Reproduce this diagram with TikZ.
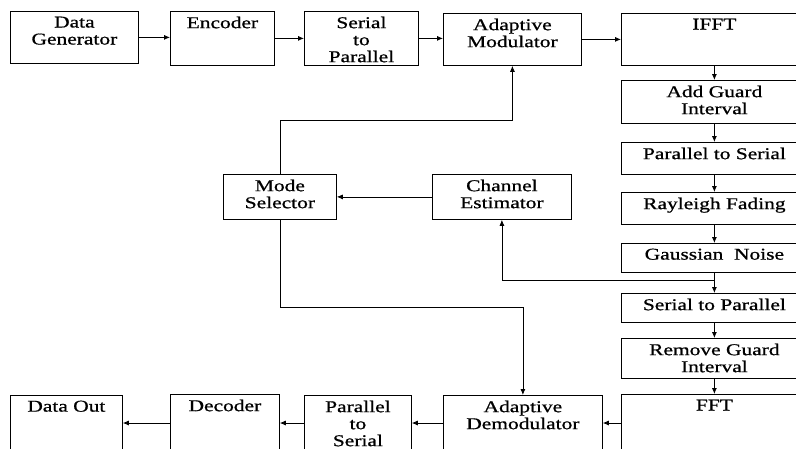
\documentclass[tikz,border=0pt]{standalone}
\usepackage{fontspec}
\setmainfont{Liberation Serif}[FakeStretch=1.3,FakeBold=0.8]
\usetikzlibrary{arrows.meta,calc}
\tikzset{
  blk/.style={draw=black, line width=0.8pt, anchor=north west, inner sep=0pt, fill=white},
  lbl/.style={anchor=north, align=center, inner sep=0pt, yshift=-5.5pt, font=\fontsize{16.5}{17}\selectfont},
  arr/.style={-{Latex[length=6pt,width=5pt]}, line width=0.8pt, draw=black},
  ln/.style={line width=0.8pt, draw=black}
}
\begin{document}
\begin{tikzpicture}[x=1pt,y=-1pt]
\useasboundingbox (0,0) rectangle (796,448);
\clip (0,0) rectangle (796,448);
\fill[white] (0,0) rectangle (796,448);
% transmitter row
\node[blk, minimum width=128pt, minimum height=52pt, label={[lbl]north:{Data\\Generator}}] (dg) at (10,11) {};
\node[blk, minimum width=104pt, minimum height=54pt, label={[lbl]north:{Encoder}}] (enc) at (170,11) {};
\node[blk, minimum width=114pt, minimum height=54pt, label={[lbl]north:{Serial\\to\\Parallel}}] (s2p) at (304,11) {};
\node[blk, minimum width=138pt, minimum height=52pt, label={[lbl]north:{Adaptive\\Modulator}}] (am) at (443,13) {};
\node[blk, minimum width=186pt, minimum height=52pt, label={[lbl]north:{IFFT}}] (ifft) at (621,13) {};
% right column
\node[blk, minimum width=186pt, minimum height=43pt, label={[lbl]north:{Add Guard\\Interval}}] (agi) at (621,80) {};
\node[blk, minimum width=186pt, minimum height=32pt, label={[lbl]north:{Parallel to Serial}}] (p2s) at (621,142) {};
\node[blk, minimum width=186pt, minimum height=32pt, label={[lbl]north:{Rayleigh Fading}}] (ray) at (621,192) {};
\node[blk, minimum width=186pt, minimum height=29pt, label={[lbl]north:{Gaussian\ \ Noise}}] (gau) at (621,243) {};
\node[blk, minimum width=186pt, minimum height=29pt, label={[lbl]north:{Serial to Parallel}}] (s2pr) at (621,293) {};
\node[blk, minimum width=186pt, minimum height=40pt, label={[lbl]north:{Remove Guard\\Interval}}] (rgi) at (621,338) {};
\node[blk, minimum width=186pt, minimum height=70pt, label={[lbl]north:{FFT}}] (fft) at (621,394) {};
% receiver row
\node[blk, minimum width=159pt, minimum height=70pt, label={[lbl]north:{Adaptive\\Demodulator}}] (ad) at (443,395) {};
\node[blk, minimum width=107pt, minimum height=70pt, label={[lbl]north:{Parallel\\to\\Serial}}] (p2sb) at (304,395) {};
\node[blk, minimum width=109pt, minimum height=70pt, label={[lbl]north:{Decoder}}] (dec) at (170,394) {};
\node[blk, minimum width=112pt, minimum height=70pt, label={[lbl]north:{Data Out}}] (dout) at (10,395) {};
% middle
\node[blk, minimum width=113pt, minimum height=45pt, label={[lbl]north:{Mode\\Selector}}] (ms) at (223,174) {};
\node[blk, minimum width=139pt, minimum height=45pt, label={[lbl]north:{Channel\\Estimator}}] (ce) at (432,174) {};
% connectors
\draw[arr] (dg.east) -- (dg.east -| enc.west);
\draw[arr] (enc.east) -- (enc.east -| s2p.west);
\draw[arr] (s2p.east) -- (s2p.east -| am.west);
\draw[arr] (am.east) -- (am.east -| ifft.west);
\draw[arr] (ifft.south) -- (agi.north);
\draw[arr] (agi.south) -- (p2s.north);
\draw[arr] (p2s.south) -- (ray.north);
\draw[arr] (ray.south) -- (gau.north);
\draw[arr] (gau.south) -- (s2pr.north);
\draw[arr] (s2pr.south) -- (rgi.north);
\draw[arr] (rgi.south) -- (fft.north);
\path (gau.south) ++(0,8) coordinate (br);
\draw[arr] (br) -| (ce.south);
\draw[arr] (ce.west) -- (ce.west -| ms.east);
\draw[arr] (ms.north) |- ([yshift=-55pt]am.south) -- (am.south);
\draw[arr] (ms.south) |- ([yshift=88pt]ad.north) -- (ad.north);
\coordinate (row) at (0,423);
\draw[arr] (fft.west |- row) -- (ad.east |- row);
\draw[arr] (ad.west |- row) -- (p2sb.east |- row);
\draw[arr] (p2sb.west |- row) -- (dec.east |- row);
\draw[arr] (dec.west |- row) -- (dout.east |- row);
\end{tikzpicture}
\end{document}
